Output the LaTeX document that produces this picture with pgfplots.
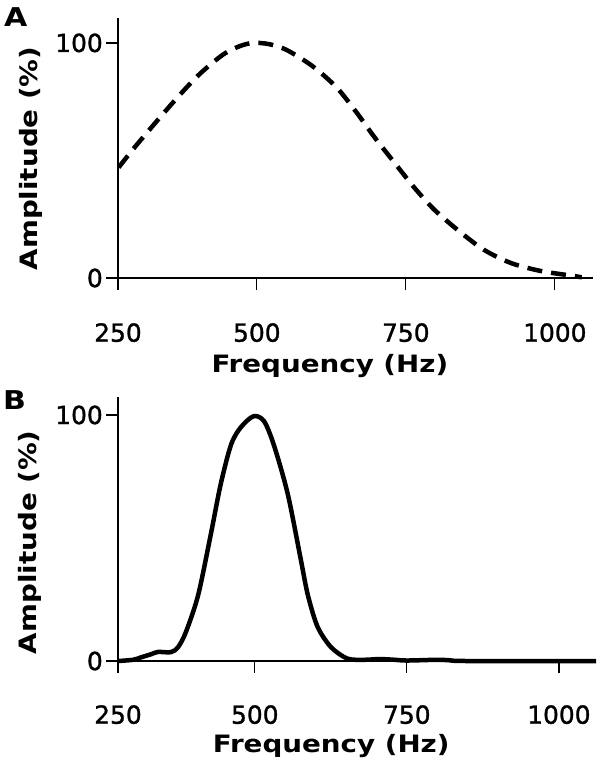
\documentclass[border=0pt]{standalone}
\usepackage{fontspec}
\setmainfont{DejaVu Sans}
\newfontfamily\labfont[FakeStretch=1.16]{DejaVu Sans Bold}
\newfontfamily\tickfont[FakeBold=1.2]{DejaVu Sans}
\usepackage{pgfplots}
\pgfplotsset{compat=1.18}
\pgfplotsset{
  panel/.style={
    scale only axis,
    axis x line=bottom, axis y line=left,
    axis line style={line width=1.2bp, -},
    tick align=outside,
    major tick length=12bp,
    every tick/.style={line width=1.2bp, black},
    /pgf/number format/assume math mode=true,
    ticklabel style={font=\tickfont\fontsize{25}{25}\selectfont},
    ytick={0,100},
    yticklabel style={inner sep=0pt, anchor=east, xshift=-3bp},
    xticklabels={250,500,750,1000},
    xlabel={Frequency (Hz)},
    ylabel={Amplitude (\%)},
    label style={font=\labfont\fontsize{24}{24}\selectfont, inner sep=0pt},
    ymin=0,
    clip=false,
  }
}
\begin{document}
\begin{tikzpicture}[x=1bp,y=1bp]
\path (0,0) rectangle (600,-768);
\node[anchor=base west, inner sep=0pt, font=\labfont\fontsize{26}{26}\selectfont] at (4,-27) {A};
\node[anchor=base west, inner sep=0pt, font=\labfont\fontsize{26}{26}\selectfont] at (3,-409) {B};

\begin{axis}[panel,
  at={(118bp,-278bp)}, anchor=south west,
  width=475bp, height=260bp,
  xmin=267, xmax=1064, ymax=110.6,
  xtick={267,500,750,1000},
  xticklabel style={inner sep=0pt, anchor=north, yshift=-33bp},
  xlabel style={at={(axis description cs:0.446,0)}, anchor=north, yshift=-76bp},
  ylabel style={at={(axis description cs:-0.1705,0.46)}, anchor=base},
]
\addplot[black, line width=4.5bp, dash pattern=on 15bp off 9bp, smooth] coordinates {
(268,47) (293,55) (333,67) (371,78) (405,87) (443,95) (470,98.5) (493,100)
(520,99.5) (550,97) (594,90) (634,81) (667,70.5) (697,60) (731,49) (764,38.5)
(798,29) (839,20) (881,12) (926,6.4) (976,3) (1028,1) (1045,0.3)
};
\end{axis}

\begin{axis}[panel,
  at={(118bp,-661bp)}, anchor=south west,
  width=478bp, height=264bp,
  xmin=275, xmax=1061, ymax=107.3,
  xtick={275,500,750,1000},
  xticklabel style={inner sep=0pt, anchor=north, yshift=-32bp},
  xlabel style={at={(axis description cs:0.446,0)}, anchor=north, yshift=-73bp},
  ylabel style={at={(axis description cs:-0.1695,0.45)}, anchor=base},
]
\addplot[black, line width=4.5bp, smooth] coordinates {
(275,0) (300,0.5) (313,1.5) (330,2.8) (341,3.7) (362,3.6) (374,5.7) (387,12)
(407,27) (428,52) (444,72) (461,88) (477,95) (498,99.5) (515,97.5) (531,88)
(554,68) (575,42) (587,27) (603,14) (625,5.7) (652,1) (680,0.5) (705,0.8)
(730,0.5) (750,0.2) (800,0.5) (820,0.3) (850,0) (1061,0)
};
\end{axis}
\end{tikzpicture}
\end{document}
